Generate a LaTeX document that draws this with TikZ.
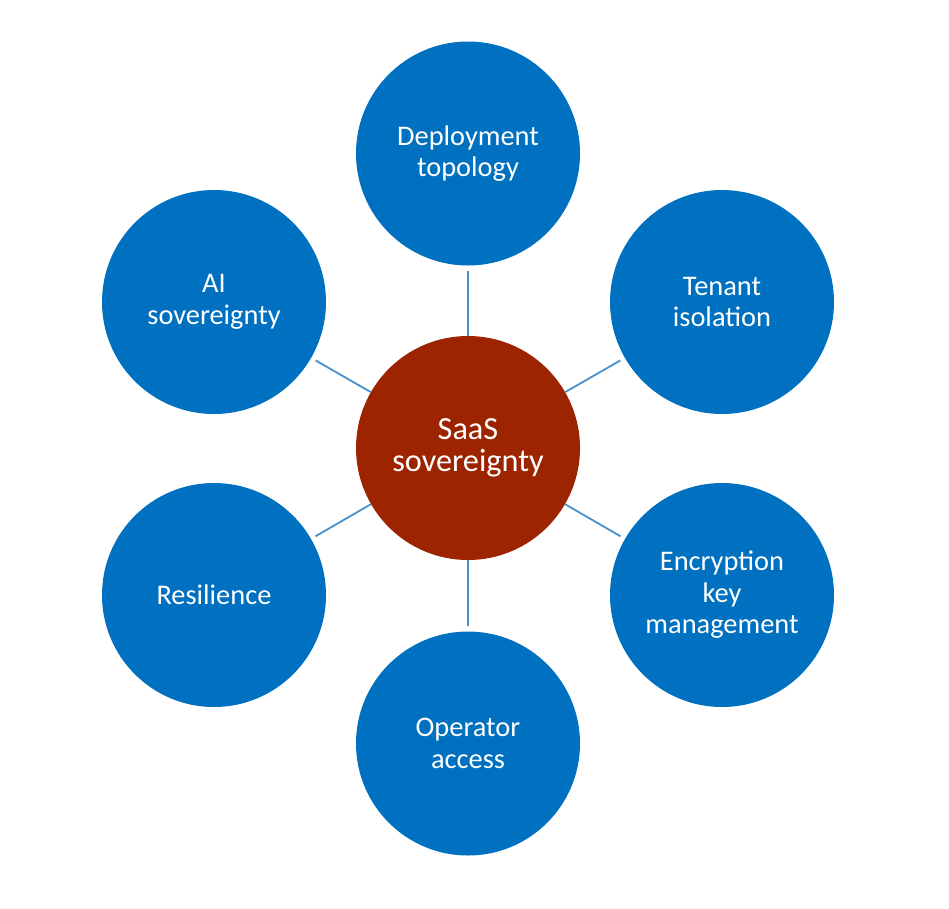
\documentclass[tikz,border=0pt]{standalone}
\usepackage{fontspec}
\setmainfont{Carlito}
\definecolor{bubble}{HTML}{0070C0}
\definecolor{hub}{HTML}{9C2400}
\definecolor{link}{HTML}{4A90C9}
\begin{document}
\begin{tikzpicture}[x=1pt,y=-1pt,
  outer/.style={circle,fill=bubble,minimum size=224pt,inner sep=0pt,text=white,align=center,
    font=\fontsize{28.4}{31.5}\selectfont},
  hubnode/.style={circle,fill=hub,minimum size=224pt,inner sep=0pt,text=white,align=center,
    font=\fontsize{32.3}{32.5}\selectfont},
  conn/.style={draw=link,line width=1.8pt,shorten >=5pt}]
\useasboundingbox (0,0) rectangle (949,908);
\fill[white] (0,0) rectangle (949,908);
\node[hubnode] (c) at (468,448) {SaaS\\sovereignty};
\node[outer] (t) at (468,153.5) {Deployment\\topology};
\node[outer] (tr) at (722,302) {Tenant\\isolation};
\node[outer] (br) at (722,595) {Encryption\\key\\management};
\node[outer] (b) at (468,743.5) {Operator\\access};
\node[outer] (bl) at (214,595) {Resilience};
\node[outer] (tl) at (214,302) {AI\\sovereignty};
\foreach \n in {t,tr,br,b,bl,tl} \draw[conn] (c) -- (\n);
\end{tikzpicture}
\end{document}
